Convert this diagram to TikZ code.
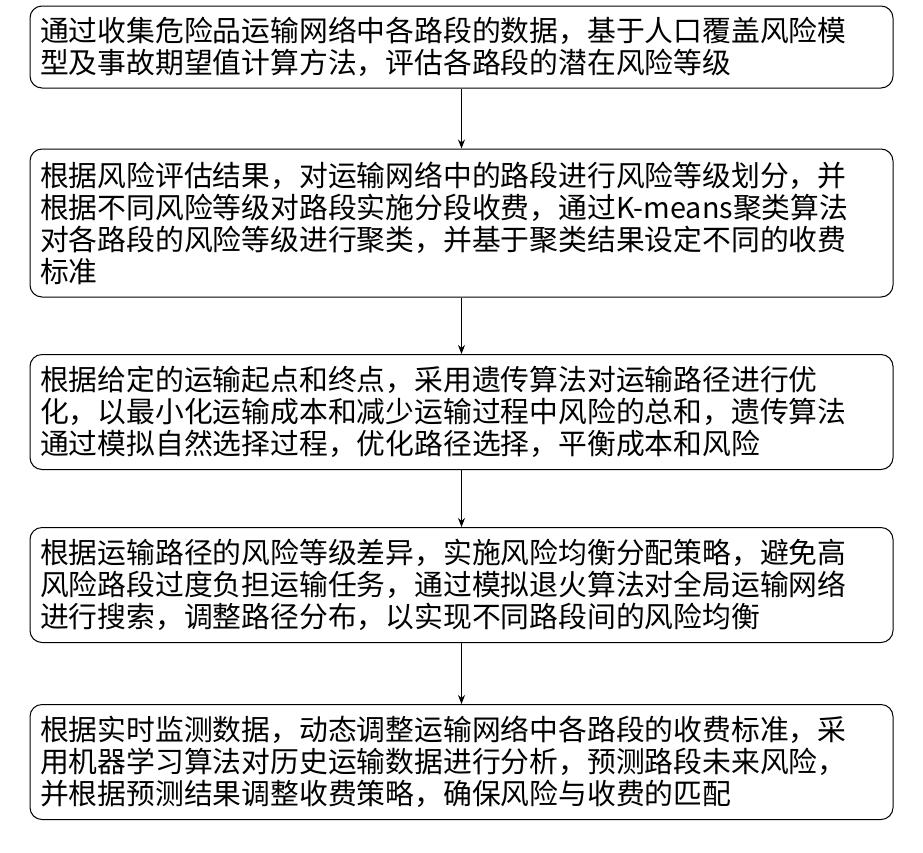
\documentclass[tikz,border=0pt]{standalone}
\usepackage{fontspec}
\newfontfamily\cjk{Noto Sans CJK SC}
\usetikzlibrary{arrows.meta}
\begin{document}
\begin{tikzpicture}[x=1pt,y=-1pt,
  stepbox/.style={draw,rounded corners=12pt,line width=1pt,minimum width=863pt,text width=843pt,align=left,inner sep=10pt,font=\cjk\fontsize{28.8pt}{32pt}\selectfont},
  conn/.style={-{Stealth[length=9pt,width=7pt]},line width=1pt}]
\useasboundingbox (0,0) rectangle (923,852);
\node[stepbox,minimum height=82pt] (b1) at (461.5,47) {通过收集危险品运输网络中各路段的数据，基于人口覆盖风险模\\型及事故期望值计算方法，评估各路段的潜在风险等级};
\node[stepbox,minimum height=148pt] (b2) at (461.5,223) {根据风险评估结果，对运输网络中的路段进行风险等级划分，并\\根据不同风险等级对路段实施分段收费，通过K-means聚类算法\\对各路段的风险等级进行聚类，并基于聚类结果设定不同的收费\\标准};
\node[stepbox,minimum height=115pt] (b3) at (461.5,412) {根据给定的运输起点和终点，采用遗传算法对运输路径进行优\\化，以最小化运输成本和减少运输过程中风险的总和，遗传算法\\通过模拟自然选择过程，优化路径选择，平衡成本和风险};
\node[stepbox,minimum height=115pt] (b4) at (461.5,585) {根据运输路径的风险等级差异，实施风险均衡分配策略，避免高\\风险路段过度负担运输任务，通过模拟退火算法对全局运输网络\\进行搜索，调整路径分布，以实现不同路段间的风险均衡};
\node[stepbox,minimum height=115pt] (b5) at (461.5,762) {根据实时监测数据，动态调整运输网络中各路段的收费标准，采\\用机器学习算法对历史运输数据进行分析，预测路段未来风险，\\并根据预测结果调整收费策略，确保风险与收费的匹配};
\draw[conn] (b1) -- (b2);
\draw[conn] (b2) -- (b3);
\draw[conn] (b3) -- (b4);
\draw[conn] (b4) -- (b5);
\end{tikzpicture}
\end{document}
